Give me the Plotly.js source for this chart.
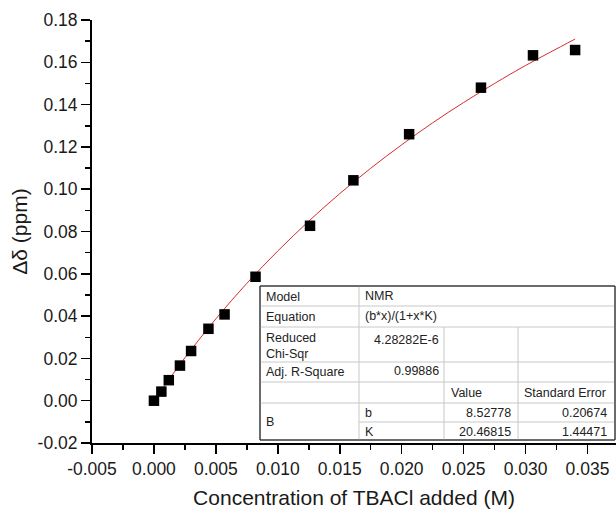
<!DOCTYPE html>
<html>
<head>
<meta charset="utf-8">
<script src="https://cdn.plot.ly/plotly-3.0.1.min.js"></script>
<style>
html,body{margin:0;padding:0;background:#fff;}
#chart{width:616px;height:511px;}
</style>
</head>
<body>
<div id="chart"></div>
<script>
// ---- data ----
const conc = [0.0000, 0.0006, 0.0012, 0.0021, 0.0030, 0.0044, 0.0057, 0.0082, 0.0126, 0.0161, 0.0206, 0.0264, 0.0306, 0.0340];
const deltaDelta = [0.0000, 0.0043, 0.0097, 0.0166, 0.0235, 0.0340, 0.0408, 0.0586, 0.0827, 0.1042, 0.1260, 0.1480, 0.1633, 0.1658];

// fitted curve, points
const fitX = [0.0000, 0.0025, 0.0050, 0.0075, 0.0100, 0.0125, 0.0150, 0.0175, 0.0200, 0.0225, 0.0250, 0.0275, 0.0300, 0.0320, 0.0340];
const fitY = [0.0000, 0.0203, 0.0387, 0.0555, 0.0708, 0.0849, 0.0979, 0.1099, 0.1210, 0.1314, 0.1410, 0.1500, 0.1585, 0.1648, 0.1710];

// axis ticks
const xTickVals = [-0.005, 0.000, 0.005, 0.010, 0.015, 0.020, 0.025, 0.030, 0.035];
const xTickText = ['-0.005', '0.000', '0.005', '0.010', '0.015', '0.020', '0.025', '0.030', '0.035'];
const yTickVals = [-0.02, 0.00, 0.02, 0.04, 0.06, 0.08, 0.10, 0.12, 0.14, 0.16, 0.18];
const yTickText = ['-0.02', '0.00', '0.02', '0.04', '0.06', '0.08', '0.10', '0.12', '0.14', '0.16', '0.18'];

// fit report table
const modelName = 'NMR';
const equation = '(b*x)/(1+x*K)';
const reducedChiSqr = '4.28282E-6';
const adjRSquare = '0.99886';
const paramNames = ['b', 'K'];
const paramValues = ['8.52778', '20.46815'];
const paramErrors = ['0.20674', '1.44471'];

// ---- layout geometry ----
const W = 616, H = 511;
const M = {l: 92, r: 0, t: 20, b: 68};
const PW = W - M.l - M.r, PH = H - M.t - M.b;
const px = x => (x - M.l) / PW;
const py = y => (H - M.b - y) / PH;

const tFont = {family: 'Arial, "Liberation Sans", sans-serif', size: 12.5, color: '#222'};
const dark = '#3a3a3a', light = '#c8c8c8';

// table frame (pixel coordinates)
const TL = 260, TR = 615;
const rowY = [286, 306, 327, 362, 382, 403, 422, 440];
const colX = [260, 359, 444, 518, 615];

const shapes = [];
function line(x0, y0, x1, y1, color, w) {
  shapes.push({type: 'line', xref: 'paper', yref: 'paper', x0: px(x0), y0: py(y0), x1: px(x1), y1: py(y1),
    line: {color: color, width: w}, layer: 'above'});
}
shapes.push({type: 'rect', xref: 'paper', yref: 'paper', x0: px(TL), y0: py(rowY[0]), x1: px(TR), y1: py(rowY[7]),
  fillcolor: 'white', line: {color: dark, width: 1}, layer: 'above'});
for (let i = 1; i <= 5; i++) line(TL, rowY[i], TR, rowY[i], light, 1);
line(colX[1], rowY[6], TR, rowY[6], light, 1);
line(colX[1], rowY[0], colX[1], rowY[7], light, 1);
line(colX[2], rowY[2], colX[2], rowY[7], light, 1);
line(colX[3], rowY[2], colX[3], rowY[7], light, 1);
// outer frame on top of inner lines
line(TL, rowY[0], TR, rowY[0], dark, 1);
line(TL, rowY[7], TR, rowY[7], dark, 1);
line(TL, rowY[0], TL, rowY[7], dark, 1);
line(TR, rowY[0], TR, rowY[7], dark, 1);

const annotations = [];
function txt(t, x, y, anchor, align) {
  annotations.push({text: t, xref: 'paper', yref: 'paper', x: px(x), y: py(y), xanchor: anchor, yanchor: 'middle',
    align: align || anchor, showarrow: false, font: tFont});
}
txt('Model', 264, 296.5, 'left');
txt(modelName, 363, 296, 'left');
txt('Equation', 264, 316.5, 'left');
txt(equation, 363, 316, 'left');
txt('Reduced<br>Chi-Sqr', 264, 346, 'left', 'left');
txt(reducedChiSqr, 441, 339.5, 'right');
txt('Adj. R-Square', 264, 371.5, 'left');
txt(adjRSquare, 441, 371, 'right');
txt('Value', 449, 392.5, 'left');
txt('Standard Error', 522, 392.5, 'left');
txt('B', 264, 421.5, 'left');
const paramRowY = [412.5, 431.5];
for (let i = 0; i < paramNames.length; i++) {
  txt(paramNames[i], 363, paramRowY[i], 'left');
  txt(paramValues[i], 513, paramRowY[i], 'right');
  txt(paramErrors[i], 609, paramRowY[i], 'right');
}

const axFont = {family: 'Arial, "Liberation Sans", sans-serif', size: 17.5, color: '#1a1a1a'};
const titleFont = {family: 'Arial, "Liberation Sans", sans-serif', size: 21, color: '#1a1a1a'};

const traces = [
  {x: fitX, y: fitY, mode: 'lines', type: 'scatter', line: {color: 'rgb(215,45,45)', width: 1, shape: 'spline'}, hoverinfo: 'skip', cliponaxis: false},
  {x: conc, y: deltaDelta, mode: 'markers', type: 'scatter', marker: {symbol: 'square', size: 10.5, color: 'black'}, cliponaxis: false}
];

const layout = {
  width: W, height: H,
  margin: M,
  showlegend: false,
  paper_bgcolor: 'white', plot_bgcolor: 'white',
  xaxis: {
    range: [-0.005, 0.0373],
    tickmode: 'array', tickvals: xTickVals, ticktext: xTickText,
    ticks: 'outside', ticklen: 9, tickwidth: 1.5, tickcolor: 'black',
    minor: {tickmode: 'linear', tick0: -0.005, dtick: 0.0025, ticks: 'outside', ticklen: 5, tickwidth: 1.5, tickcolor: 'black', showgrid: false},
    showline: true, linewidth: 2, linecolor: 'black',
    showgrid: false, zeroline: false,
    tickfont: axFont,
    title: {text: 'Concentration of TBACl added (M)', font: titleFont, standoff: 12}
  },
  yaxis: {
    range: [-0.02, 0.18],
    tickmode: 'array', tickvals: yTickVals, ticktext: yTickText,
    ticks: 'outside', ticklen: 9, tickwidth: 1.5, tickcolor: 'black',
    minor: {tickmode: 'linear', tick0: -0.02, dtick: 0.01, ticks: 'outside', ticklen: 5, tickwidth: 1.5, tickcolor: 'black', showgrid: false},
    showline: true, linewidth: 2, linecolor: 'black',
    showgrid: false, zeroline: false,
    tickfont: axFont,
    title: {text: 'Δδ (ppm)', font: titleFont, standoff: 4}
  },
  shapes: shapes,
  annotations: annotations
};

Plotly.newPlot('chart', traces, layout, {displayModeBar: false, staticPlot: true});
</script>
</body>
</html>
